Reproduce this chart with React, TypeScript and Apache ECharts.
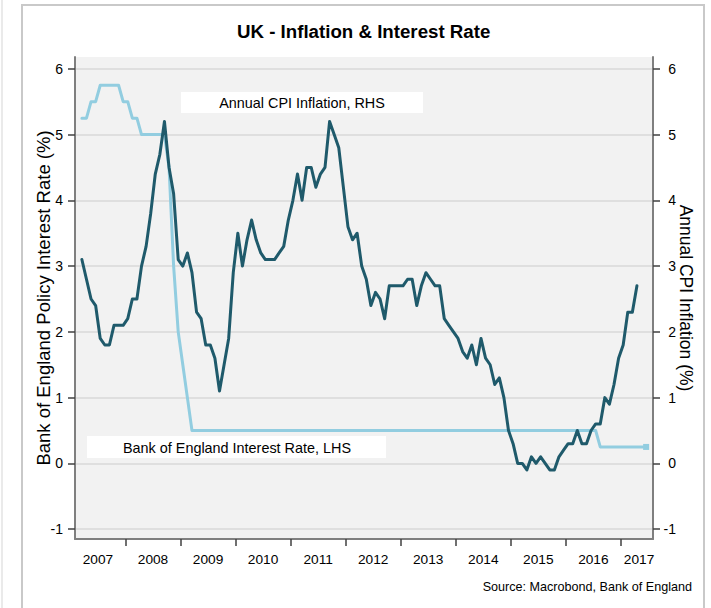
import React, { useEffect, useRef } from "react";
import * as echarts from "echarts";

// ---------- DATA ----------
const startYear = 2007;
const startMonth = 3; // first observation: March 2007

// UK CPI annual inflation, % (Mar 2007 - Apr 2017), right axis
const cpiInflation = [
  3.1, 2.8, 2.5, 2.4, 1.9, 1.8, 1.8, 2.1, 2.1, 2.1, // 2007 Mar-Dec
  2.2, 2.5, 2.5, 3.0, 3.3, 3.8, 4.4, 4.7, 5.2, 4.5, 4.1, 3.1, // 2008
  3.0, 3.2, 2.9, 2.3, 2.2, 1.8, 1.8, 1.6, 1.1, 1.5, 1.9, 2.9, // 2009
  3.5, 3.0, 3.4, 3.7, 3.4, 3.2, 3.1, 3.1, 3.1, 3.2, 3.3, 3.7, // 2010
  4.0, 4.4, 4.0, 4.5, 4.5, 4.2, 4.4, 4.5, 5.2, 5.0, 4.8, 4.2, // 2011
  3.6, 3.4, 3.5, 3.0, 2.8, 2.4, 2.6, 2.5, 2.2, 2.7, 2.7, 2.7, // 2012
  2.7, 2.8, 2.8, 2.4, 2.7, 2.9, 2.8, 2.7, 2.7, 2.2, 2.1, 2.0, // 2013
  1.9, 1.7, 1.6, 1.8, 1.5, 1.9, 1.6, 1.5, 1.2, 1.3, 1.0, 0.5, // 2014
  0.3, 0.0, 0.0, -0.1, 0.1, 0.0, 0.1, 0.0, -0.1, -0.1, 0.1, 0.2, // 2015
  0.3, 0.3, 0.5, 0.3, 0.3, 0.5, 0.6, 0.6, 1.0, 0.9, 1.2, 1.6, // 2016
  1.8, 2.3, 2.3, 2.7, // 2017 Jan-Apr
];

// Bank of England policy rate, % (Mar 2007 - Jun 2017), left axis
const bankRate = [
  5.25, 5.25, 5.5, 5.5, 5.75, 5.75, 5.75, 5.75, 5.75, 5.5, // 2007 Mar-Dec
  5.5, 5.25, 5.25, 5.0, 5.0, 5.0, 5.0, 5.0, 5.0, 4.5, 3.0, 2.0, // 2008
  1.5, 1.0, 0.5, 0.5, 0.5, 0.5, 0.5, 0.5, 0.5, 0.5, 0.5, 0.5, // 2009
  0.5, 0.5, 0.5, 0.5, 0.5, 0.5, 0.5, 0.5, 0.5, 0.5, 0.5, 0.5, // 2010
  0.5, 0.5, 0.5, 0.5, 0.5, 0.5, 0.5, 0.5, 0.5, 0.5, 0.5, 0.5, // 2011
  0.5, 0.5, 0.5, 0.5, 0.5, 0.5, 0.5, 0.5, 0.5, 0.5, 0.5, 0.5, // 2012
  0.5, 0.5, 0.5, 0.5, 0.5, 0.5, 0.5, 0.5, 0.5, 0.5, 0.5, 0.5, // 2013
  0.5, 0.5, 0.5, 0.5, 0.5, 0.5, 0.5, 0.5, 0.5, 0.5, 0.5, 0.5, // 2014
  0.5, 0.5, 0.5, 0.5, 0.5, 0.5, 0.5, 0.5, 0.5, 0.5, 0.5, 0.5, // 2015
  0.5, 0.5, 0.5, 0.5, 0.5, 0.5, 0.5, 0.25, 0.25, 0.25, 0.25, 0.25, // 2016
  0.25, 0.25, 0.25, 0.25, 0.25, 0.25, // 2017 Jan-Jun
];

const yearTicks = [2008, 2009, 2010, 2011, 2012, 2013, 2014, 2015, 2016, 2017];
const yearLabels = [2007, 2008, 2009, 2010, 2011, 2012, 2013, 2014, 2015, 2016, 2017];
const yTickValues = [-1, 0, 1, 2, 3, 4, 5, 6];

const titleText = "UK - Inflation & Interest Rate";
const leftAxisName = "Bank of England Policy Interest Rate (%)";
const rightAxisName = "Annual CPI Inflation (%)";
const cpiLabel = "Annual CPI Inflation, RHS";
const rateLabel = "Bank of England Interest Rate, LHS";
const sourceText = "Source: Macrobond, Bank of England";

// ---------- helpers ----------
// month index -> decimal year at mid-month
const monthPos = (i: number) => {
  const m0 = startMonth - 1 + i;
  return startYear + (m0 + 0.5) / 12;
};

const SANS = "'Liberation Sans', Arial, Helvetica, sans-serif";

const CPI_COLOR = "#1f5a6b";
const RATE_COLOR = "#92cde0";
const AXIS_COLOR = "#7f7f7f";

export default function App() {
  const ref = useRef<HTMLDivElement>(null);

  useEffect(() => {
    if (!ref.current) return;
    const chart = echarts.init(ref.current, undefined, { renderer: "svg" });

    const cpiData = cpiInflation.map((v, i) => [monthPos(i), v]);
    const rateData: any[] = bankRate.map((v, i) => [monthPos(i), v]);
    const last = rateData.length - 1;
    rateData[last] = {
      value: rateData[last],
      symbol: "rect",
      symbolSize: 6,
      itemStyle: { color: RATE_COLOR },
    };

    const xMin = 2007 + 1 / 12;
    const xMax = 2017 + 7 / 12;
    // label positions: centred in the visible part of each year
    const labelVals = yearLabels.map((y) => (y === 2017 ? 2017.33 : y + 0.5));

    const yAxisBase = {
      type: "value",
      min: -1.15,
      max: 6.18,
      axisLine: { show: true, lineStyle: { color: AXIS_COLOR, width: 2 } },
      axisTick: {
        show: true,
        customValues: yTickValues,
        length: 7,
        lineStyle: { color: "#404040", width: 1.5 },
      },
      nameLocation: "middle",
      nameMoveOverlap: false,
    };

    const option: any = {
      animation: false,
      backgroundColor: "#ffffff",
      title: {
        text: titleText,
        left: 237,
        top: 22,
        padding: 0,
        textStyle: { fontFamily: SANS, fontWeight: "bold", fontSize: 18.7, color: "#000" },
      },
      grid: {
        left: 75,
        right: 58,
        top: 57,
        bottom: 69,
        show: true,
        backgroundColor: "#f2f2f2",
        borderWidth: 0,
        containLabel: false,
      },
      xAxis: {
        type: "value",
        min: xMin,
        max: xMax,
        axisLine: { show: true, onZero: false, lineStyle: { color: AXIS_COLOR, width: 2 } },
        axisTick: {
          show: true,
          customValues: yearTicks,
          length: 7,
          lineStyle: { color: "#404040", width: 1.5 },
        },
        axisLabel: {
          customValues: labelVals,
          formatter: (v: number) => String(Math.floor(v)),
          fontFamily: SANS,
          fontSize: 13.7,
          color: "#000",
          margin: 13,
        },
        splitLine: { show: false },
      },
      yAxis: [
        {
          ...yAxisBase,
          position: "left",
          name: leftAxisName,
          nameGap: 22,
          nameTextStyle: { fontFamily: SANS, fontSize: 18.5, color: "#000" },
          axisLabel: {
            customValues: yTickValues,
            fontFamily: SANS,
            fontSize: 14,
            color: "#000",
            margin: 12,
          },
          splitLine: { show: true, lineStyle: { color: "#d9d9d9", width: 1.5 } },
        },
        {
          ...yAxisBase,
          position: "right",
          name: rightAxisName,
          nameGap: 24,
          nameRotate: -90,
          nameTextStyle: { fontFamily: SANS, fontSize: 17.5, color: "#000" },
          axisLabel: {
            customValues: yTickValues,
            fontFamily: SANS,
            fontSize: 14,
            color: "#000",
            margin: 23,
            align: "right",
          },
          splitLine: { show: false },
        },
      ],
      series: [
        {
          name: "Bank of England Interest Rate",
          type: "line",
          yAxisIndex: 0,
          data: rateData,
          symbol: "none",
          showSymbol: true,
          lineStyle: { color: RATE_COLOR, width: 3, cap: "round", join: "round" },
          itemStyle: { color: RATE_COLOR },
          z: 2,
        },
        {
          name: "Annual CPI Inflation",
          type: "line",
          yAxisIndex: 1,
          data: cpiData,
          symbol: "none",
          showSymbol: false,
          lineStyle: { color: CPI_COLOR, width: 3, cap: "round", join: "round" },
          z: 3,
        },
      ],
      graphic: [
        {
          type: "line",
          silent: true,
          shape: { x1: 2, y1: 0, x2: 2, y2: 608 },
          style: { stroke: "#e3e3e3", lineWidth: 1.5 },
          z: -10,
        },
        {
          type: "rect",
          silent: true,
          shape: { x: 22, y: 5, width: 682, height: 660 },
          style: { fill: "none", stroke: "#c9c9c9", lineWidth: 2 },
          z: -10,
        },
        {
          type: "group",
          x: 181,
          y: 92,
          z: 10,
          children: [
            { type: "rect", shape: { x: 0, y: 0, width: 242, height: 21 }, style: { fill: "#ffffff" } },
            {
              type: "text",
              x: 121,
              y: 11,
              style: {
                text: cpiLabel,
                fontFamily: SANS,
                fontSize: 14.4,
                fill: "#000",
                align: "center",
                verticalAlign: "middle",
              },
            },
          ],
        },
        {
          type: "group",
          x: 87,
          y: 436,
          z: 10,
          children: [
            { type: "rect", shape: { x: 0, y: 0, width: 299, height: 22 }, style: { fill: "#ffffff" } },
            {
              type: "text",
              x: 150,
              y: 11.5,
              style: {
                text: rateLabel,
                fontFamily: SANS,
                fontSize: 14.4,
                fill: "#000",
                align: "center",
                verticalAlign: "middle",
              },
            },
          ],
        },
        {
          type: "text",
          x: 692,
          y: 587,
          z: 10,
          style: {
            text: sourceText,
            fontFamily: SANS,
            fontSize: 12.6,
            fill: "#000",
            align: "right",
            verticalAlign: "middle",
          },
        },
      ],
    };

    chart.setOption(option);
    return () => chart.dispose();
  }, []);

  return (
    <div
      ref={ref}
      style={{ position: "fixed", left: 0, top: 0, width: 711, height: 608, background: "#fff" }}
    />
  );
}
